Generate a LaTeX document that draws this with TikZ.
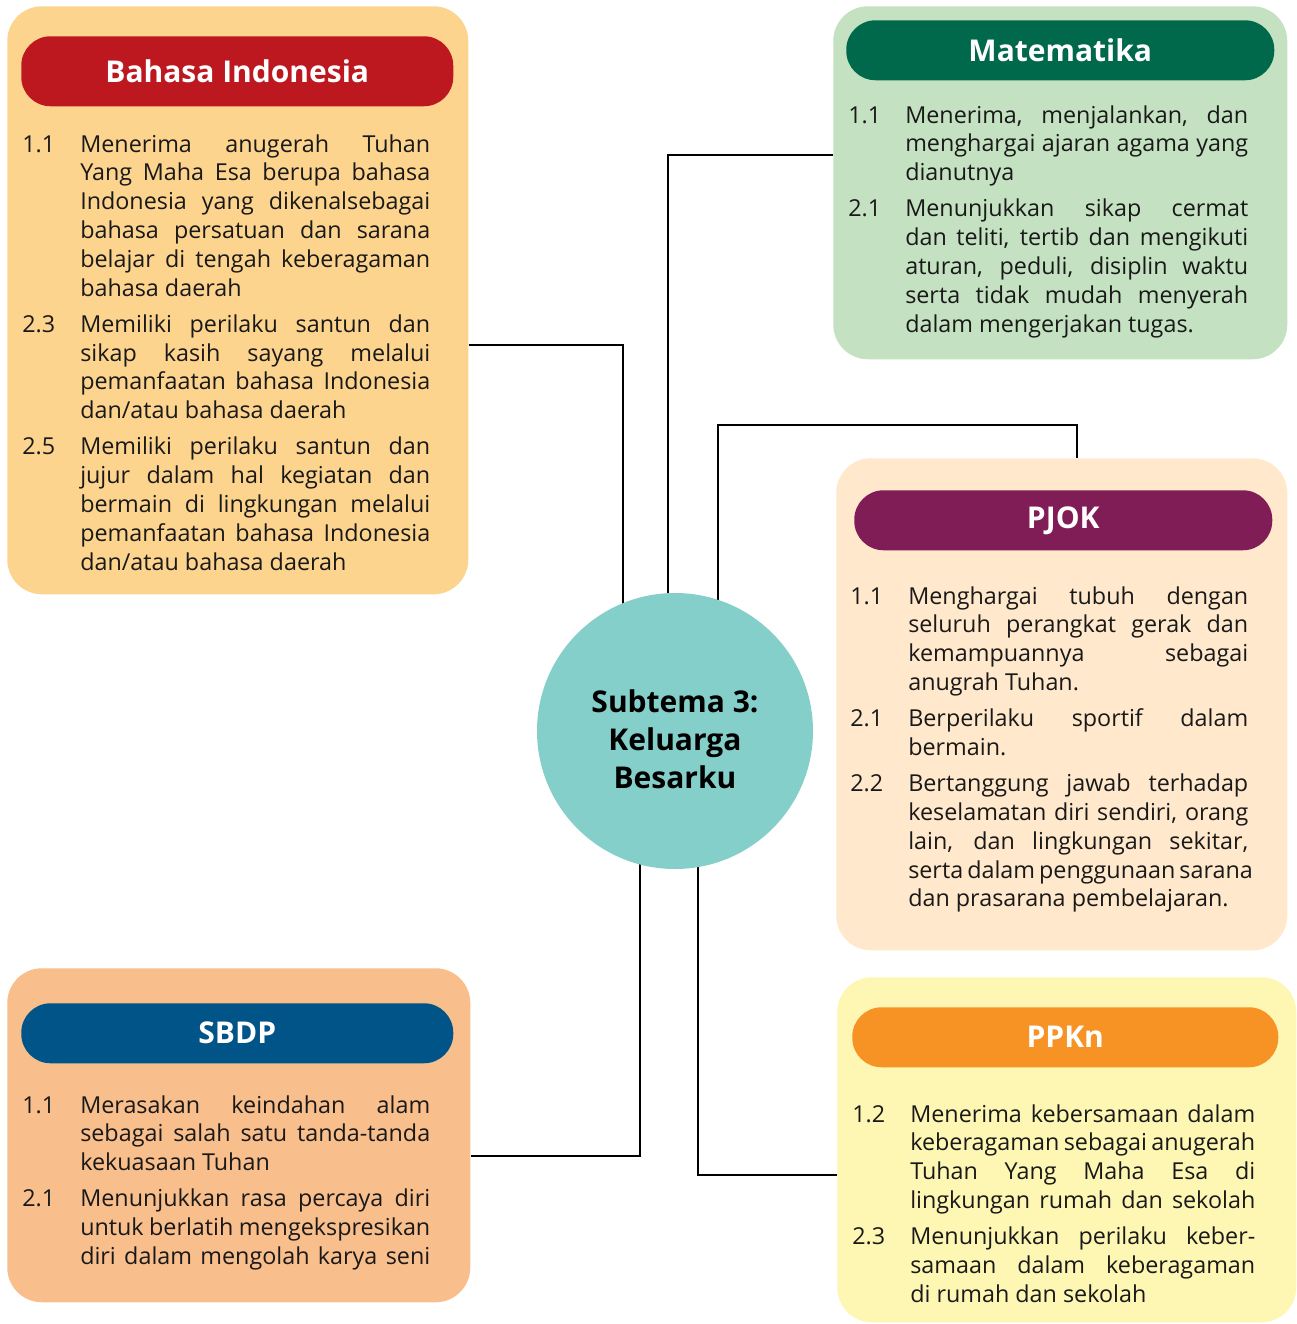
\documentclass[tikz,border=0pt]{standalone}
\usepackage{fontspec}
\setmainfont{Open Sans}
\usetikzlibrary{calc,backgrounds}
\definecolor{biFill}{HTML}{FDD48E}
\definecolor{biHead}{HTML}{BD171F}
\definecolor{mtFill}{HTML}{C4E2C1}
\definecolor{mtHead}{HTML}{00684B}
\definecolor{pjFill}{HTML}{FFE8CB}
\definecolor{pjHead}{HTML}{801C56}
\definecolor{sbFill}{HTML}{F8BE8B}
\definecolor{sbHead}{HTML}{005488}
\definecolor{ppFill}{HTML}{FEF7B3}
\definecolor{ppHead}{HTML}{F79324}
\definecolor{circFill}{HTML}{84CFC9}
\newlength\kdnum \setlength\kdnum{43.5pt}
\newlength\kdw
\newlength\kdgap \setlength\kdgap{5.6pt}
% justified line, natural (last) line
\newcommand\jline[2]{\hbox{\hbox to \kdnum{#1\hss}\hbox to \kdw{#2}}}
\newcommand\lastline[2]{\hbox{\hbox to \kdnum{#1\hss}#2}\vskip\kdgap}
\begin{document}
\begin{tikzpicture}[x=0.75pt,y=-0.75pt,
  box/.style={rounded corners=26pt, anchor=north west, inner sep=0, draw=none},
  hdr/.style={rounded corners=22pt, anchor=north west, inner sep=0, text=white,
    font=\fontsize{22.5}{26}\selectfont\bfseries},
  kdtext/.style={anchor=base west, inner sep=0, text=black!90,
    font=\fontsize{17.5}{21.6}\selectfont},
  conn/.style={line width=1.8pt, black}]
\useasboundingbox (0,0) rectangle (1296,1324);

% boxes
\node[box, fill=biFill, minimum width=345.75pt, minimum height=441pt] (bi) at (7,6) {};
\node[hdr, fill=biHead, minimum width=324pt, minimum height=52.5pt] (bih) at (21,36) {Bahasa Indonesia};
\node[box, fill=mtFill, minimum width=340.5pt, minimum height=264.75pt] (mt) at (833,6) {};
\node[hdr, fill=mtHead, minimum width=321pt, minimum height=45pt] (mth) at (846,20) {Matematika};
\node[box, fill=pjFill, minimum width=338.25pt, minimum height=369pt] (pj) at (836,458) {};
\node[hdr, fill=pjHead, minimum width=313.5pt, minimum height=45pt] (pjh) at (854,490) {PJOK};
\node[box, fill=sbFill, minimum width=347.25pt, minimum height=250.5pt] (sb) at (7,968) {};
\node[hdr, fill=sbHead, minimum width=324pt, minimum height=45pt] (sbh) at (21,1003) {SBDP};
\node[box, fill=ppFill, minimum width=344.25pt, minimum height=258.75pt] (pp) at (837,977) {};
\node[hdr, fill=ppHead, minimum width=319.5pt, minimum height=45pt] (pph) at (852,1007) {PPKn};

% centre
\node[circle, fill=circFill, minimum size=207pt, inner sep=0] (circ) at (675,731) {};
\node[align=center, inner sep=0, font=\fontsize{22.5}{28.5}\selectfont\bfseries]
  (circt) at ($(circ.center)+(0,8)$) {Subtema 3:\\Keluarga\\Besarku};

% texts
\node[kdtext] (bit) at (22,152) {\setlength\kdw{262.5pt}\vtop{%
\jline{1.1}{Menerima anugerah Tuhan}\jline{}{Yang Maha Esa berupa bahasa}\jline{}{Indonesia yang dikenalsebagai}\jline{}{bahasa persatuan dan sarana}\jline{}{belajar di tengah keberagaman}\lastline{}{bahasa daerah}
\jline{2.3}{Memiliki perilaku santun dan}\jline{}{sikap kasih sayang melalui}\jline{}{pemanfaatan bahasa Indonesia}\lastline{}{dan/atau bahasa daerah}
\jline{2.5}{Memiliki perilaku santun dan}\jline{}{jujur dalam hal kegiatan dan}\jline{}{bermain di lingkungan melalui}\jline{}{pemanfaatan bahasa Indonesia}\lastline{}{dan/atau bahasa daerah}}};

\node[kdtext] (mtt) at (848,123) {\setlength\kdnum{42.75pt}\setlength\kdw{257.25pt}\vtop{%
\jline{1.1}{Menerima, menjalankan, dan}\jline{}{menghargai ajaran agama yang}\lastline{}{dianutnya}
\jline{2.1}{Menunjukkan sikap cermat}\jline{}{dan teliti, tertib dan mengikuti}\jline{}{aturan, peduli, disiplin waktu}\jline{}{serta tidak mudah menyerah}\lastline{}{dalam mengerjakan tugas.}}};

\node[kdtext] (pjt) at (850,604) {\setlength\kdw{255pt}\vtop{%
\jline{1.1}{Menghargai tubuh dengan}\jline{}{seluruh perangkat gerak dan}\jline{}{kemampuannya sebagai}\lastline{}{anugrah Tuhan.}
\jline{2.1}{Berperilaku sportif dalam}\lastline{}{bermain.}
\jline{2.2}{Bertanggung jawab terhadap}\jline{}{keselamatan diri sendiri, orang}\jline{}{lain, dan lingkungan sekitar,}\jline{}{serta dalam penggunaan sarana}\lastline{}{dan prasarana pembelajaran.}}};

\node[kdtext] (sbt) at (22,1113) {\setlength\kdw{262.5pt}\vtop{%
\jline{1.1}{Merasakan keindahan alam}\jline{}{sebagai salah satu tanda-tanda}\lastline{}{kekuasaan Tuhan}
\jline{2.1}{Menunjukkan rasa percaya diri}\jline{}{untuk berlatih mengekspresikan}\jline{}{diri dalam mengolah karya seni}}};

\node[kdtext] (ppt) at (852,1122) {\setlength\kdw{258.75pt}\vtop{%
\jline{1.2}{Menerima kebersamaan dalam}\jline{}{keberagaman sebagai anugerah}\jline{}{Tuhan Yang Maha Esa di}\jline{}{lingkungan rumah dan sekolah}\vskip\kdgap
\jline{2.3}{Menunjukkan perilaku keber-}\jline{}{samaan dalam keberagaman}\lastline{}{di rumah dan sekolah}}};

% connectors
\begin{pgfonlayer}{background}
\draw[conn] (bi.east |- 0,345) -| ($(circ.center)+(-52,0)$);
\draw[conn] (mt.west |- 0,155) -| ($(circ.center)+(-7,0)$);
\draw[conn] (pj.north -| 1077,0) |- ($(circ.center)+(43,-306)$) -- ($(circ.center)+(43,0)$);
\draw[conn] (sb.east |- 0,1156) -| ($(circ.center)+(-35,0)$);
\draw[conn] (pp.west |- 0,1175) -| ($(circ.center)+(23,0)$);
\end{pgfonlayer}
\end{tikzpicture}
\end{document}
